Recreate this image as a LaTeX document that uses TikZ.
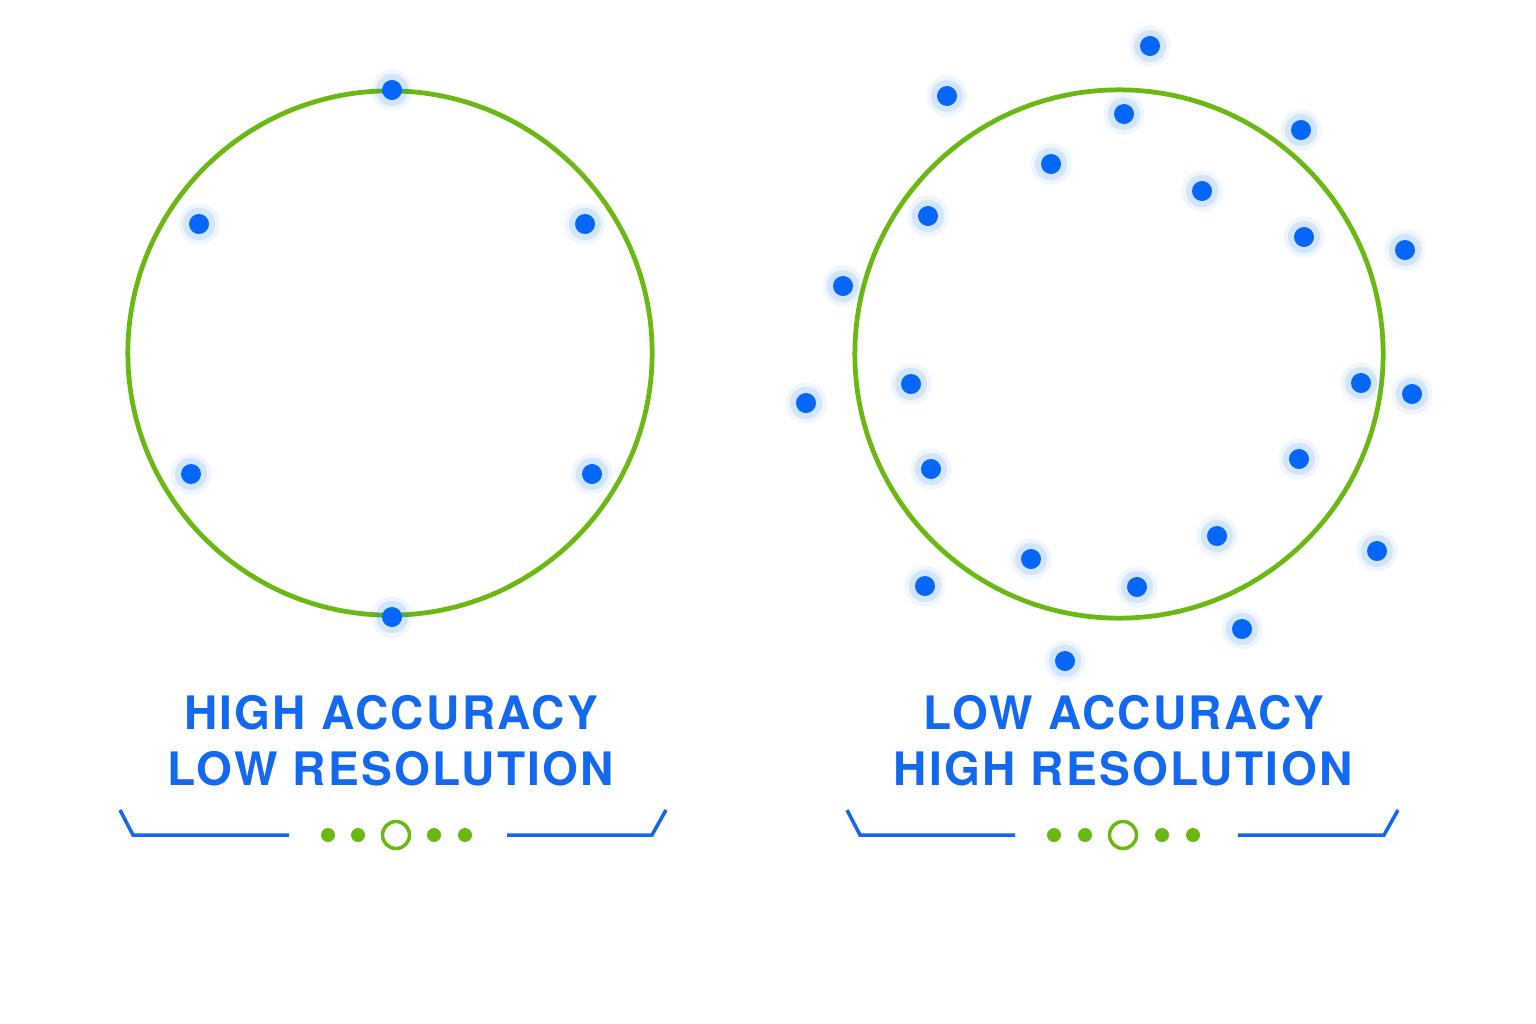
\documentclass[tikz,border=0pt]{standalone}
\usepackage{fontspec}
\usepackage{tikz}
\newfontfamily\capfont[LetterSpace=5]{TeX Gyre Heros}
\definecolor{ringgreen}{RGB}{106,184,18}
\definecolor{dotblue}{RGB}{5,102,250}
\definecolor{textblue}{RGB}{18,104,238}
\tikzset{every picture/.style={x=0.01cm,y=-0.01cm}}
\tikzset{ring/.style={circle,draw=ringgreen,line width=1.35pt,inner sep=0pt}}
\tikzset{point/.style={circle,fill=dotblue,inner sep=0pt,minimum size=0.2cm,
  preaction={draw=dotblue,draw opacity=0.06,line width=6pt},
  preaction={draw=dotblue,draw opacity=0.12,line width=3.5pt}}}
\tikzset{caption/.style={text=textblue,font=\capfont\bfseries\fontsize{13.1}{15}\selectfont,inner sep=0pt}}
\tikzset{rule/.style={draw=textblue,line width=1pt}}
\tikzset{bead/.style={circle,fill=ringgreen,inner sep=0pt,minimum size=0.14cm}}
\tikzset{hub/.style={circle,draw=ringgreen,line width=1pt,inner sep=0pt,minimum size=0.27cm}}

\begin{document}
\begin{tikzpicture}
\fill [white] (0,0) rectangle (1536,1024);
\useasboundingbox (0,0) rectangle (1536,1024);

% left target
\node [ring,minimum size=5.24cm] (lc) at (390,353) {};
\node [point] (l1) at (392,90) {};
\node [point] (l2) at (199,224) {};
\node [point] (l3) at (585,224) {};
\node [point] (l4) at (191,474) {};
\node [point] (l5) at (592,474) {};
\node [point] (l6) at (392,617) {};

% right target
\node [ring,minimum size=5.28cm] (rc) at (1119,354) {};
\node [point] (r1) at (1150,46) {};
\node [point] (r2) at (947,96) {};
\node [point] (r3) at (1124,114) {};
\node [point] (r4) at (1301,130) {};
\node [point] (r5) at (1051,164) {};
\node [point] (r6) at (1202,191) {};
\node [point] (r7) at (928,216) {};
\node [point] (r8) at (1304,237) {};
\node [point] (r9) at (1405,250) {};
\node [point] (r10) at (843,286) {};
\node [point] (r11) at (911,384) {};
\node [point] (r12) at (1361,383) {};
\node [point] (r13) at (1412,394) {};
\node [point] (r14) at (806,403) {};
\node [point] (r15) at (931,469) {};
\node [point] (r16) at (1299,459) {};
\node [point] (r17) at (1217,536) {};
\node [point] (r18) at (1377,551) {};
\node [point] (r19) at (1031,559) {};
\node [point] (r20) at (925,586) {};
\node [point] (r21) at (1137,587) {};
\node [point] (r22) at (1242,629) {};
\node [point] (r23) at (1065,661) {};

% captions
\node [caption] (lt1) at (391,713) {HIGH ACCURACY};
\node [caption] (lt2) at (391,769) {LOW RESOLUTION};
\node [caption] (rt1) at (1124,713) {LOW ACCURACY};
\node [caption] (rt2) at (1123,769) {HIGH RESOLUTION};

% left underline
\coordinate (la) at (120,810);
\coordinate (lb) at (133,835);
\coordinate (lc1) at (289,835);
\coordinate (ld) at (507,835);
\coordinate (le) at (652,835);
\coordinate (lf) at (666,810);
\draw [rule] (la) -- (lb) -- (lc1);
\draw [rule] (ld) -- (le) -- (lf);
\node [bead] (lb1) at (328,835) {};
\node [bead] (lb2) at (358,835) {};
\node [hub] (lh) at (396,835) {};
\node [bead] (lb3) at (434,835) {};
\node [bead] (lb4) at (465,835) {};

% right underline
\coordinate (ra) at (847,810);
\coordinate (rb) at (860,835);
\coordinate (rc1) at (1015,835);
\coordinate (rd) at (1238,835);
\coordinate (re) at (1384,835);
\coordinate (rf) at (1398,810);
\draw [rule] (ra) -- (rb) -- (rc1);
\draw [rule] (rd) -- (re) -- (rf);
\node [bead] (rb1) at (1054,835) {};
\node [bead] (rb2) at (1085,835) {};
\node [hub] (rh) at (1123,835) {};
\node [bead] (rb3) at (1162,835) {};
\node [bead] (rb4) at (1193,835) {};
\end{tikzpicture}
\end{document}
